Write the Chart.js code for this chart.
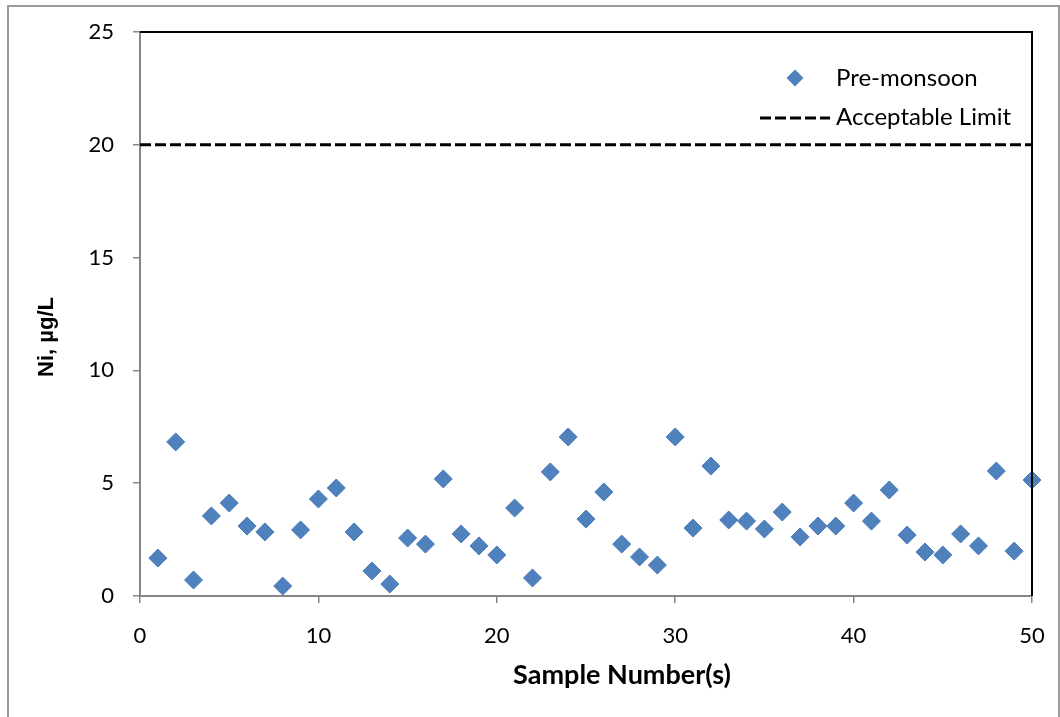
<!DOCTYPE html>
<html>
<head>
<meta charset="utf-8">
<script src="https://cdn.jsdelivr.net/npm/chart.js@4.4.1/dist/chart.umd.min.js"></script>
<style>
  html, body { margin: 0; padding: 0; background: #ffffff; }
  #wrap { position: relative; width: 1060px; height: 717px; }
  canvas { display: block; }
</style>
</head>
<body>
<div id="wrap"><canvas id="chart" width="1060" height="717"></canvas></div>
<script>
// Sample numbers 1..50 and measured nickel concentrations (µg/L), pre-monsoon
const sampleNumbers = [
  1, 2, 3, 4, 5, 6, 7, 8, 9, 10,
  11, 12, 13, 14, 15, 16, 17, 18, 19, 20,
  21, 22, 23, 24, 25, 26, 27, 28, 29, 30,
  31, 32, 33, 34, 35, 36, 37, 38, 39, 40,
  41, 42, 43, 44, 45, 46, 47, 48, 49, 50
];
const preMonsoon = [
  1.68, 6.83, 0.71, 3.55, 4.12, 3.10, 2.84, 0.44, 2.93, 4.30,
  4.79, 2.84, 1.11, 0.53, 2.57, 2.30, 5.19, 2.75, 2.22, 1.82,
  3.90, 0.80, 5.50, 7.05, 3.41, 4.61, 2.30, 1.73, 1.37, 7.05,
  3.01, 5.76, 3.37, 3.32, 2.97, 3.72, 2.62, 3.10, 3.10, 4.12,
  3.32, 4.70, 2.70, 1.95, 1.82, 2.75, 2.22, 5.54, 1.99, 5.14
];
// Acceptable limit for Ni and the sample range it spans
const acceptableLimit = 20;
const limitRange = [0, 50];

const seriesLabels = ['Pre-monsoon', 'Acceptable Limit'];
const xTitle = 'Sample Number(s)';
const yTitle = 'Ni, µg/L';

const BLUE = '#4F81BD';
const AXIS_GRAY = '#868686';

const scatterPoints = sampleNumbers.map((n, i) => ({ x: n, y: preMonsoon[i] }));
const limitPoints = limitRange.map(x => ({ x: x, y: acceptableLimit }));

// Outer frame, black plot border (top/right), axis titles and the legend box
const decorations = {
  id: 'decorations',
  beforeDraw(chart) {
    const ctx = chart.ctx;
    ctx.save();
    ctx.fillStyle = '#ffffff';
    ctx.fillRect(0, 0, chart.width, chart.height);
    ctx.strokeStyle = '#9a9a9a';
    ctx.lineWidth = 2;
    ctx.strokeRect(8, 6, 1051, 720);
    ctx.restore();
  },
  afterDraw(chart) {
    const ctx = chart.ctx;
    const a = chart.chartArea;
    ctx.save();
    // plot border on the top and right sides
    ctx.strokeStyle = '#000000';
    ctx.lineWidth = 2;
    ctx.beginPath();
    ctx.moveTo(a.left, a.top);
    ctx.lineTo(a.right, a.top);
    ctx.lineTo(a.right, a.bottom);
    ctx.stroke();

    // axis titles
    ctx.fillStyle = '#000000';
    ctx.textAlign = 'center';
    ctx.textBaseline = 'middle';
    ctx.font = 'bold 27px Lato';
    ctx.fillText(xTitle, 622, 675);
    ctx.save();
    ctx.translate(47, 337);
    ctx.rotate(-Math.PI / 2);
    ctx.font = 'bold 22px "Liberation Sans"';
    ctx.fillText(yTitle, 0, 0);
    ctx.restore();

    // legend
    const ds0 = chart.data.datasets[0];
    const ds1 = chart.data.datasets[1];
    ctx.fillStyle = ds0.pointBackgroundColor;
    ctx.beginPath();
    const cx = 795, cy = 78, r = 8.5;
    ctx.moveTo(cx - r, cy);
    ctx.lineTo(cx, cy - r);
    ctx.lineTo(cx + r, cy);
    ctx.lineTo(cx, cy + r);
    ctx.closePath();
    ctx.fill();

    ctx.strokeStyle = ds1.borderColor;
    ctx.lineWidth = ds1.borderWidth;
    ctx.setLineDash(ds1.borderDash);
    ctx.beginPath();
    ctx.moveTo(760, 118);
    ctx.lineTo(830, 118);
    ctx.stroke();
    ctx.setLineDash([]);

    ctx.fillStyle = '#000000';
    ctx.textAlign = 'left';
    ctx.font = '24px Lato';
    ctx.fillText(seriesLabels[0], 836, 78);
    ctx.fillText(seriesLabels[1], 836, 117);
    ctx.restore();
  }
};

new Chart(document.getElementById('chart'), {
  type: 'scatter',
  data: {
    datasets: [
      {
        label: seriesLabels[0],
        data: scatterPoints,
        pointStyle: 'rectRot',
        pointRadius: 9,
        pointHoverRadius: 9,
        pointBackgroundColor: BLUE,
        pointBorderColor: '#4A7CB8',
        pointBorderWidth: 1,
        showLine: false,
        clip: false
      },
      {
        label: seriesLabels[1],
        type: 'line',
        data: limitPoints,
        borderColor: '#000000',
        borderWidth: 3,
        borderDash: [11, 4],
        pointRadius: 0,
        fill: false,
        tension: 0
      }
    ]
  },
  options: {
    responsive: false,
    animation: false,
    events: [],
    layout: { padding: { top: 32, right: 28, left: 0, bottom: 0 } },
    plugins: {
      legend: { display: false },
      tooltip: { enabled: false }
    },
    scales: {
      x: {
        type: 'linear',
        min: 0,
        max: 50,
        afterFit(scale) {
          scale.height = 121;
          scale.paddingLeft = 0;
          scale.paddingRight = 0;
        },
        ticks: {
          stepSize: 10,
          color: '#000000',
          padding: 20,
          font: { family: 'Lato', size: 22 },
          maxRotation: 0
        },
        grid: {
          drawOnChartArea: false,
          drawTicks: true,
          tickLength: 7,
          color: AXIS_GRAY,
          lineWidth: 1.5
        },
        border: { display: true, color: AXIS_GRAY, width: 2 }
      },
      y: {
        type: 'linear',
        min: 0,
        max: 25,
        afterFit(scale) {
          scale.width = 140;
          scale.paddingTop = 0;
          scale.paddingBottom = 0;
        },
        ticks: {
          stepSize: 5,
          color: '#000000',
          padding: 19,
          font: { family: 'Lato', size: 22 }
        },
        grid: {
          drawOnChartArea: false,
          drawTicks: true,
          tickLength: 7,
          color: AXIS_GRAY,
          lineWidth: 1.5
        },
        border: { display: true, color: AXIS_GRAY, width: 2 }
      }
    }
  },
  plugins: [decorations]
});
</script>
</body>
</html>
